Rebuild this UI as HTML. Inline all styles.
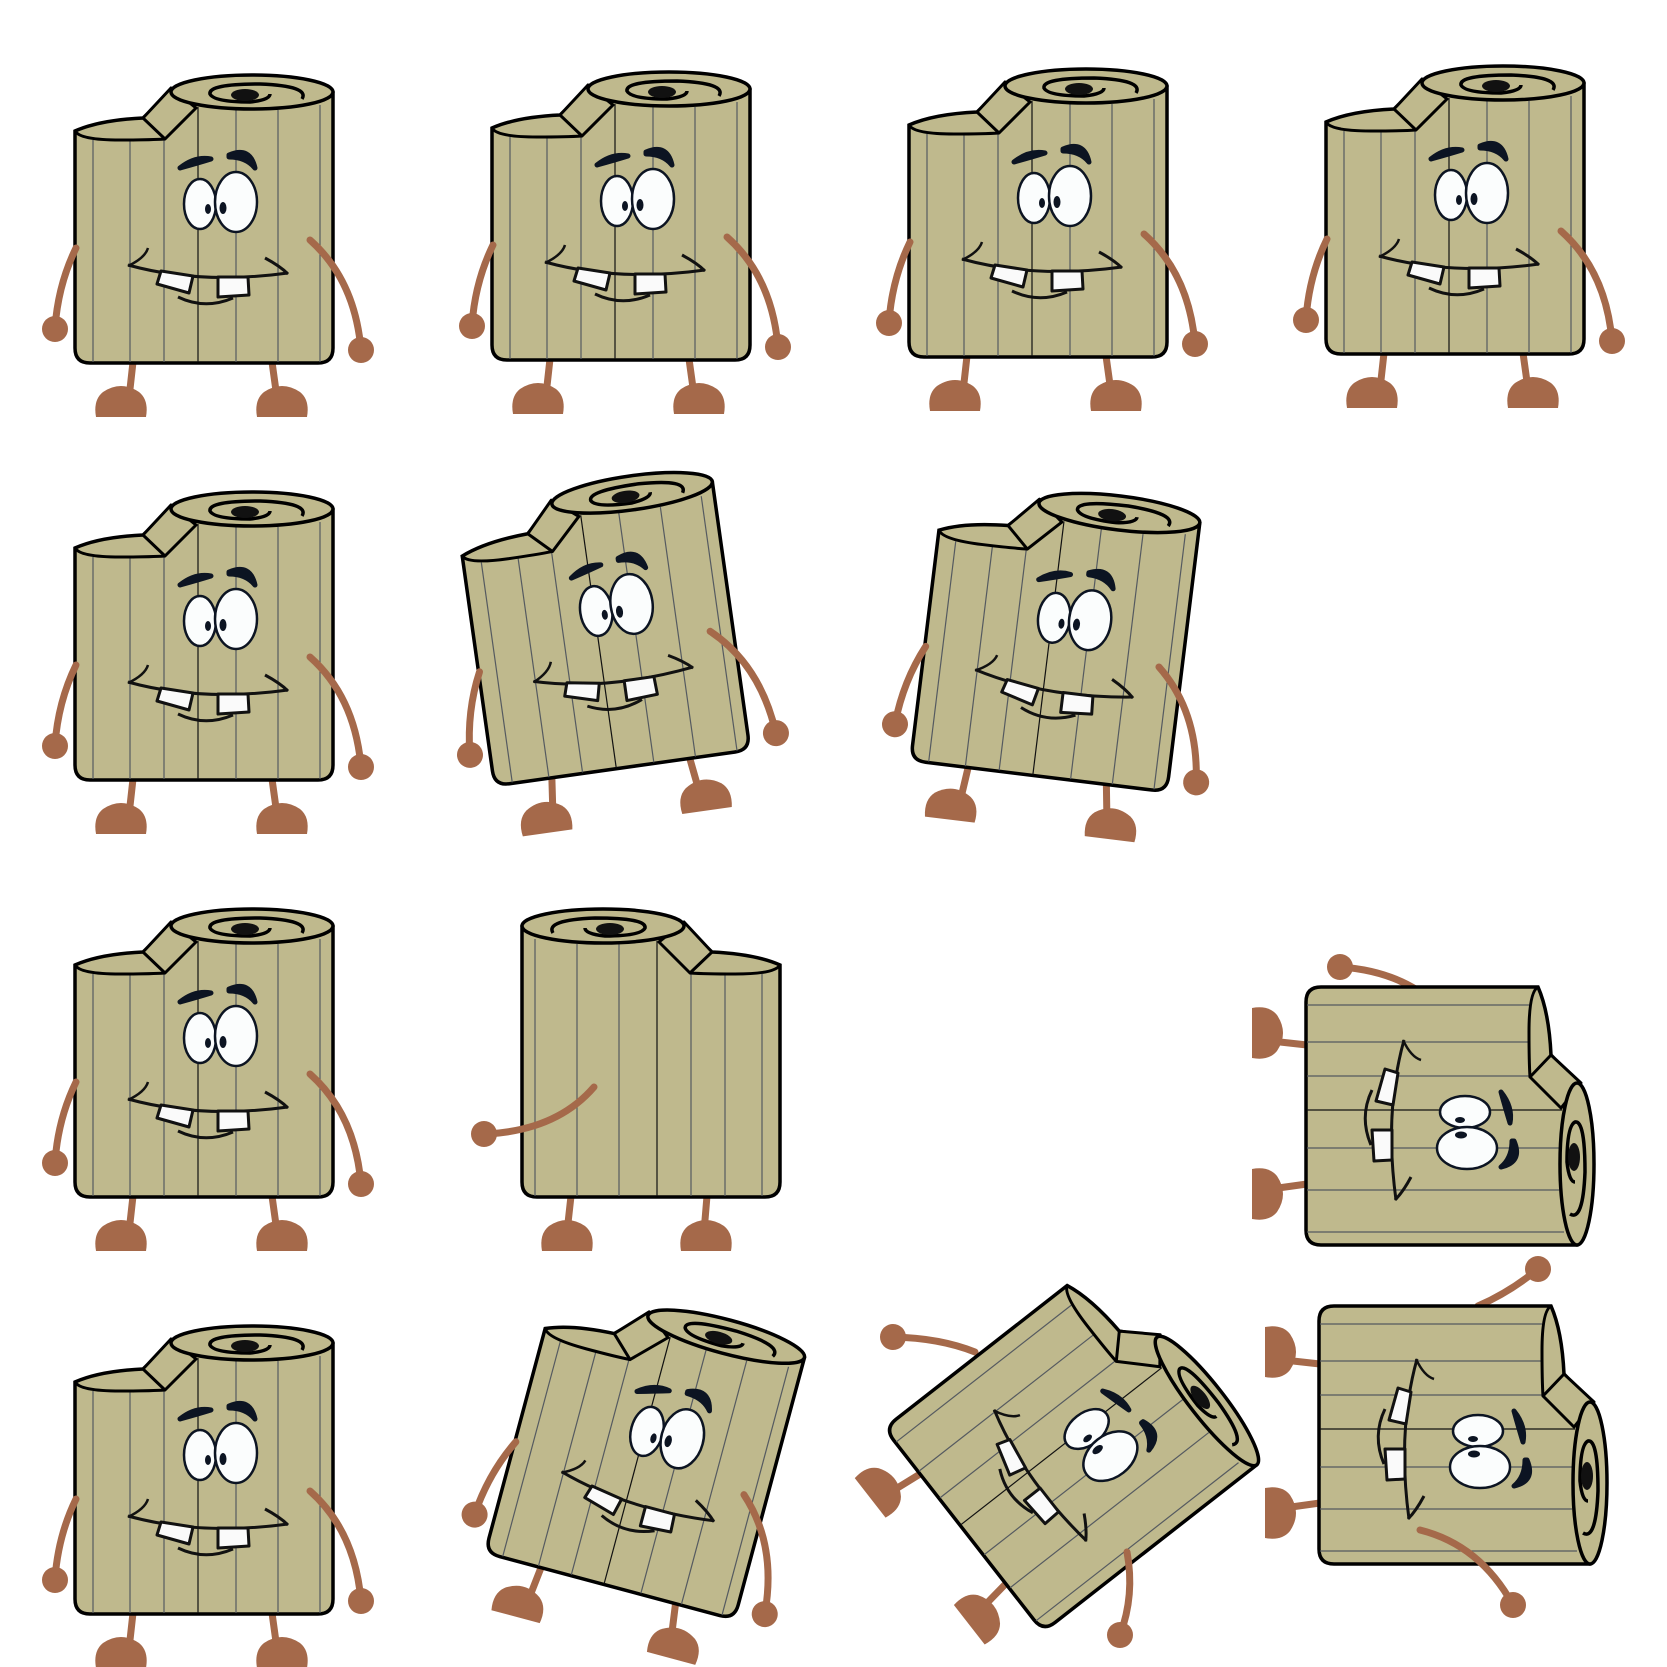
<!DOCTYPE html>
<html><head><meta charset="utf-8"><style>html,body{margin:0;padding:0;background:#fff}svg{display:block}</style></head>
<body>
<svg width="1667" height="1667" viewBox="0 0 1667 1667" xmlns="http://www.w3.org/2000/svg">
<defs>
<g id="base">
  <path d="M75,131 L75,348 Q75,363 90,363 L318,363 Q333,363 333,348 L333,93 L170,93 L143,118 Q100,120 75,131 Z" fill="#bfb98d" stroke="#000" stroke-width="3.5"/>
  <g stroke="#555a60" stroke-width="1.2">
    <line x1="93" y1="140" x2="93" y2="362"/><line x1="130" y1="140" x2="130" y2="362"/>
    <line x1="164" y1="140" x2="164" y2="362"/><line x1="198" y1="107" x2="198" y2="362" stroke="#111"/>
    <line x1="236" y1="110" x2="236" y2="362"/><line x1="278" y1="110" x2="278" y2="362"/>
    <line x1="320" y1="105" x2="320" y2="362"/>
  </g>
  <path d="M75,131 Q80,140 120,140 Q150,140 165,139" fill="none" stroke="#000" stroke-width="3"/>
  <polygon points="143,118 171,88 196,108 165,139" fill="#bfb98d" stroke="#000" stroke-width="3" stroke-linejoin="round"/>
  <ellipse cx="252" cy="92" rx="81" ry="17" fill="#bfb98d" stroke="#000" stroke-width="3.5"/>
  <path d="M302,99 Q310,86 260,84 Q208,84 210,94 Q214,102 250,102 Q270,100 270,94" fill="none" stroke="#000" stroke-width="3.5"/>
  <ellipse cx="245" cy="95" rx="14" ry="6" fill="#111"/>
</g>
<g id="face">
  <path d="M180,168 Q195,156 211,159 Q198,163 180,168 Z" fill="#0c1422" stroke="#0c1422" stroke-width="5" stroke-linejoin="round"/>
  <path d="M229,155 Q250,146 255,168 Q246,157 229,157 Z" fill="#0c1422" stroke="#0c1422" stroke-width="5" stroke-linejoin="round"/>
  <ellipse cx="200" cy="204" rx="16" ry="25" fill="#fbfdfd" stroke="#0c1422" stroke-width="2.5"/>
  <ellipse cx="236" cy="202" rx="21" ry="30" fill="#fbfdfd" stroke="#0c1422" stroke-width="2.5"/>
  <ellipse cx="208" cy="209" rx="3" ry="5" fill="#0c1422"/>
  <ellipse cx="223" cy="208" rx="3.5" ry="6" fill="#0c1422"/>
  <path d="M128,265 Q200,285 288,273" fill="none" stroke="#111" stroke-width="3"/>
  <path d="M128,266 Q145,258 148,248" fill="none" stroke="#111" stroke-width="2.5"/>
  <path d="M265,258 Q280,266 288,274" fill="none" stroke="#111" stroke-width="3"/>
  <path d="M178,297 Q205,310 233,298" fill="none" stroke="#111" stroke-width="3"/>
  <polygon points="161,271 193,276 189,293 157,284" fill="#fafafa" stroke="#111" stroke-width="3" stroke-linejoin="round"/>
  <polygon points="218,277 248,277 249,295 218,297" fill="#fafafa" stroke="#111" stroke-width="3" stroke-linejoin="round"/>
</g>
<g id="arms">
  <path d="M76,248 Q58,285 55,328" fill="none" stroke="#a5694a" stroke-width="7" stroke-linecap="round"/>
  <circle cx="55" cy="329" r="13" fill="#a5694a"/>
  <path d="M310,240 Q355,280 361,350" fill="none" stroke="#a5694a" stroke-width="7" stroke-linecap="round"/>
  <circle cx="361" cy="350" r="13" fill="#a5694a"/>
</g>
<g id="legs">
  <path d="M133,362 L129,398 M272,362 L277,398" stroke="#a5694a" stroke-width="7"/>
  <path d="M96,417 Q93,400 103,392 Q121,380 139,392 Q149,400 146,417 Z" fill="#a5694a"/>
  <path d="M257,417 Q254,400 264,392 Q282,380 300,392 Q310,400 307,417 Z" fill="#a5694a"/>
</g>
<g id="front"><use href="#legs"/><use href="#base"/><use href="#face"/><use href="#arms"/></g>
<g id="lying"><use href="#legs"/><use href="#base"/><use href="#face"/></g>
</defs>

<use href="#front" x="0" y="0"/>
<use href="#front" transform="translate(417,-3)"/>
<use href="#front" transform="translate(834,-6)"/>
<use href="#front" transform="translate(1251,-9)"/>
<use href="#front" transform="translate(0,417)"/>
<use href="#front" transform="translate(417,417) translate(189,235) rotate(-8) translate(-204,-246)"/>
<use href="#front" transform="translate(834,417) translate(219,243) rotate(7) translate(-204,-246)"/>
<use href="#front" transform="translate(0,834)"/>
<g transform="translate(417,834)">
  <path d="M154,362 L150,398 M290,362 L287,398" stroke="#a5694a" stroke-width="7"/>
  <path d="M125,417 Q122,400 132,392 Q150,380 168,392 Q178,400 175,417 Z" fill="#a5694a"/>
  <path d="M264,417 Q261,400 271,392 Q289,380 307,392 Q317,400 314,417 Z" fill="#a5694a"/>
  <use href="#base" transform="translate(438,0) scale(-1,1)"/>
  <path d="M177,253 Q140,296 70,300" fill="none" stroke="#a5694a" stroke-width="7" stroke-linecap="round"/>
  <circle cx="67" cy="300" r="13" fill="#a5694a"/>
</g>
<g>
  <path d="M1340,967 Q1385,970 1417,990" fill="none" stroke="#a5694a" stroke-width="7" stroke-linecap="round"/>
  <circle cx="1340" cy="967" r="13" fill="#a5694a"/>
  <use href="#lying" transform="translate(1251,834) translate(172,282) rotate(90) translate(-204,-246)"/>
</g>
<use href="#front" transform="translate(0,1251)"/>
<use href="#front" transform="translate(417,1251) translate(223,222) rotate(15) translate(-204,-246)"/>
<g>
  <path d="M893,1337 Q940,1338 975,1352" fill="none" stroke="#a5694a" stroke-width="7" stroke-linecap="round"/>
  <circle cx="893" cy="1337" r="13" fill="#a5694a"/>
  <use href="#lying" transform="translate(834,1251) translate(222,207) rotate(52) translate(-204,-246)"/>
  <path d="M1127,1552 Q1135,1595 1120,1635" fill="none" stroke="#a5694a" stroke-width="7" stroke-linecap="round"/>
  <circle cx="1120" cy="1635" r="13" fill="#a5694a"/>
</g>
<g>
  <path d="M1478,1306 Q1510,1292 1538,1269" fill="none" stroke="#a5694a" stroke-width="7" stroke-linecap="round"/>
  <circle cx="1538" cy="1269" r="13" fill="#a5694a"/>
  <use href="#lying" transform="translate(1251,1251) translate(185,184) rotate(90) translate(-204,-246)"/>
  <path d="M1420,1530 Q1480,1545 1513,1605" fill="none" stroke="#a5694a" stroke-width="7" stroke-linecap="round"/>
  <circle cx="1513" cy="1605" r="13" fill="#a5694a"/>
</g>
</svg>
</body></html>
